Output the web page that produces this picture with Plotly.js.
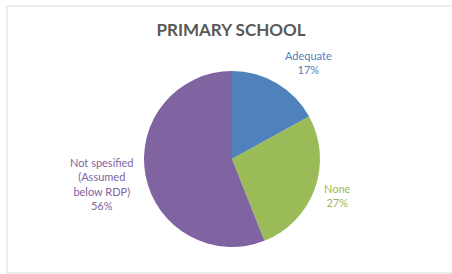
<!DOCTYPE html>
<html><head><meta charset="utf-8">
<script src="https://cdn.plot.ly/plotly-3.0.1.min.js"></script>
<style>html,body{margin:0;padding:0;background:#fff}#c{width:452px;height:274px}</style>
</head><body><div id="c"></div>
<script>
var categories = ["Adequate", "None", "Not spesified<br>(Assumed<br>below RDP)"];
var values = [17, 27, 56];
var colors = ["#4F81BD", "#9BBB59", "#8064A2"];
var labelPos = [[308, 62], [337, 195], [102, 184]];

var total = values.reduce(function(a,b){return a+b;},0);
var annotations = categories.map(function(c,i){
  return {text: c + "<br>" + Math.round(values[i]/total*100) + "%",
    xref:"paper", yref:"paper", x: labelPos[i][0]/452, y: 1-labelPos[i][1]/274,
    xanchor:"center", yanchor:"middle", showarrow:false, align:"center",
    font:{family:"Lato, 'Open Sans', sans-serif", size:11, color:colors[i]}};
});

var data = [{type:"pie", labels:categories, values:values, sort:false, direction:"clockwise", rotation:0,
  marker:{colors:colors, line:{color:"#ffffff", width:0}}, textinfo:"none", hoverinfo:"none",
  domain:{x:[144/452, 320/452], y:[1-247/274, 1-71/274]}}];

var layout = {width:452, height:274, margin:{l:0,r:0,t:0,b:0}, showlegend:false,
  paper_bgcolor:"#fff",
  title:{text:"<b>PRIMARY SCHOOL</b>", x:231/452, xanchor:"center", y:1-30/274, yanchor:"middle",
    font:{family:"Lato, 'Open Sans', sans-serif", size:17, color:"#595959"}},
  annotations: annotations,
  shapes:[{type:"rect", xref:"paper", yref:"paper", x0:7/452, x1:1.02, y0:1-273/274, y1:1-6/274,
    line:{color:"#d9d9d9", width:1}}]};
Plotly.newPlot("c", data, layout, {staticPlot:true});
</script></body></html>
